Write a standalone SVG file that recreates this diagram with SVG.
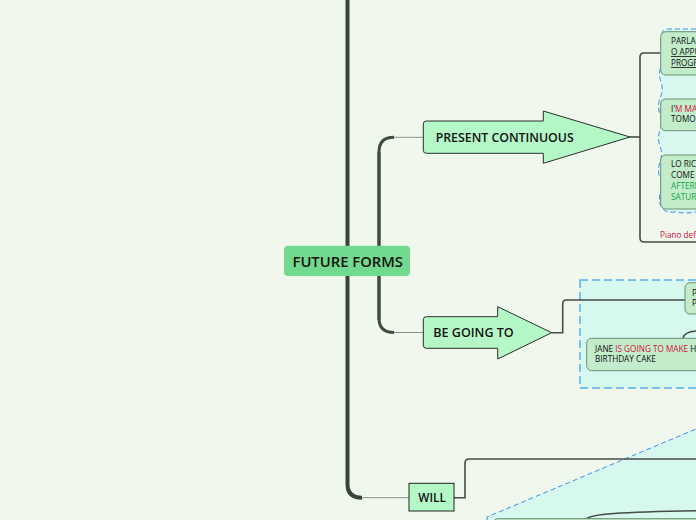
<svg xmlns="http://www.w3.org/2000/svg" width="696" height="520" viewBox="0 0 696 520">
<style>
.lbl{font-family:"Open Sans","Liberation Sans",sans-serif;font-weight:600;fill:#111}
.sm{font-family:"Open Sans","Liberation Sans",sans-serif;font-size:8.2px;font-weight:500;fill:#111}
.red{fill:#d5103c}
.grn{fill:#12a64a}
.sub{fill:#c2ecca;stroke:#6d8f74;stroke-width:1}
.arrow{fill:#b5f8c7;stroke:#2b2f2c;stroke-width:1}
.conn{fill:none;stroke:#454b46;stroke-width:1.6}
.thin{fill:none;stroke:#8a8f8a;stroke-width:1}
</style>
<rect width="696" height="520" fill="#f0f8ed"/>

<g id="boundaries">
  <path d="M696,29 L668,29 Q662,29 662,34 Q659,42 662,50 Q665,58 661,66 Q658,74 661,82 Q664,90 660,98 Q657,106 660,114 Q663,122 660,130 Q657,138 660,146 Q663,154 660,162 Q657,170 660,178 Q663,186 660,194 Q658,202 662,208 Q666,213 676,212 Q686,214 696,212" fill="#d8f8ef" stroke="#3b8ee8" stroke-width="1" stroke-dasharray="5,3"/>
  <rect x="580" y="280" width="130" height="108" fill="#d6f8ef" stroke="#5aaef0" stroke-width="1.5" stroke-dasharray="8,4"/>
  <path d="M487,520 L487,517 L696,429 L696,520 Z" fill="#d6f8ef"/>
  <path d="M487,520 L487,517 L696,429" fill="none" stroke="#3b8ee8" stroke-width="1" stroke-dasharray="5,3"/>
</g>

<g id="connectors">
  <path d="M347.5,0 V484 Q347.5,497.7 362,497.7" fill="none" stroke="#36443a" stroke-width="4"/>
  <path d="M362,497.7 H409" class="thin"/>
  <path d="M379,320 V152 Q379,137.3 394,137.3" fill="none" stroke="#3f4a40" stroke-width="3"/>
  <path d="M394,137.3 H424" class="thin"/>
  <path d="M379,152 V318 Q379,332.5 394,332.5" fill="none" stroke="#3f4a40" stroke-width="3"/>
  <path d="M394,332.5 H424" class="thin"/>
  <path d="M630,137 H640" class="conn"/>
  <path d="M660.5,53 H644 Q640,53 640,57 V238 Q640,242 644,242 H696" class="conn"/>
  <path d="M551.7,332.7 H562.7 V304 Q562.7,300 566.7,300 H685" class="conn"/>
  <path d="M683,338 C684,333 690,331.5 696,331" class="conn"/>
  <path d="M454,497.7 H465 V463 Q465,459 469,459 H696" class="conn"/>
  <path d="M586,519 C590,514 620,512 696,510.7" class="conn"/>
</g>

<g id="future-forms">
  <rect x="284" y="245.7" width="126" height="30.3" rx="4" fill="#72da8e"/>
  <text class="lbl" x="292.5" y="267" font-size="15" textLength="110.5" lengthAdjust="spacingAndGlyphs">FUTURE FORMS</text>
</g>

<g id="present-continuous">
  <path class="arrow" d="M423.3,124 Q423.3,121 426.3,121 L543.3,121 L543.3,111 L630,137 L543.3,163.3 L543.3,153.3 L426.3,153.3 Q423.3,153.3 423.3,150.3 Z"/>
  <text class="lbl" x="435.7" y="141.7" font-size="12.5" textLength="138" lengthAdjust="spacingAndGlyphs">PRESENT CONTINUOUS</text>
</g>

<g id="pc-node-1">
  <rect class="sub" x="660.7" y="31.7" width="60" height="43.3" rx="5"/>
  <text class="sm" x="671" y="44">PARLA</text>
  <text class="sm" x="671" y="55" text-decoration="underline">O APPU</text>
  <text class="sm" x="671" y="66" text-decoration="underline">PROGR</text>
</g>
<g id="pc-node-2">
  <rect class="sub" x="660.7" y="99" width="60" height="31.7" rx="5"/>
  <text class="sm" x="671" y="111.7">I'<tspan class="red">M MA</tspan></text>
  <text class="sm" x="671" y="121.7">TOMO</text>
</g>
<g id="pc-node-3">
  <rect class="sub" x="660.7" y="155" width="60" height="54" rx="5"/>
  <text class="sm" x="671" y="167">LO RIC</text>
  <text class="sm" x="671" y="178">COME</text>
  <text class="sm grn" x="671" y="189">AFTERN</text>
  <text class="sm grn" x="671" y="200">SATUR</text>
</g>
<g id="pc-note">
  <text class="sm red" x="660" y="237.5">Piano def</text>
</g>

<g id="be-going-to">
  <path class="arrow" d="M423.3,319.7 Q423.3,316.7 426.3,316.7 L497.7,316.7 L497.7,306.7 L551.7,332.7 L497.7,359 L497.7,348.3 L426.3,348.3 Q423.3,348.3 423.3,345.3 Z"/>
  <text class="lbl" x="433.3" y="337.2" font-size="12.5" textLength="80.4" lengthAdjust="spacingAndGlyphs">BE GOING TO</text>
</g>
<g id="bgt-node-1">
  <rect class="sub" x="685" y="282.7" width="40" height="31.3" rx="5"/>
  <text class="sm" x="692" y="295.7">P</text>
  <text class="sm" x="692" y="306">P</text>
</g>
<g id="bgt-node-2">
  <rect class="sub" x="586.7" y="338.3" width="140" height="32.4" rx="5"/>
  <text class="sm" x="595" y="351.7">JANE <tspan class="red">IS GOING TO MAKE</tspan> H</text>
  <text class="sm" x="595" y="362.3">BIRTHDAY CAKE</text>
</g>

<g id="will">
  <rect x="409" y="483.3" width="45" height="27.7" fill="#b5f8c7" stroke="#222" stroke-width="1"/>
  <text class="lbl" x="418.3" y="501.7" font-size="12.5" textLength="27.5" lengthAdjust="spacingAndGlyphs">WILL</text>
</g>
<g id="will-node-1">
  <rect class="sub" x="493" y="518.7" width="240" height="30" rx="5"/>
</g>
</svg>
